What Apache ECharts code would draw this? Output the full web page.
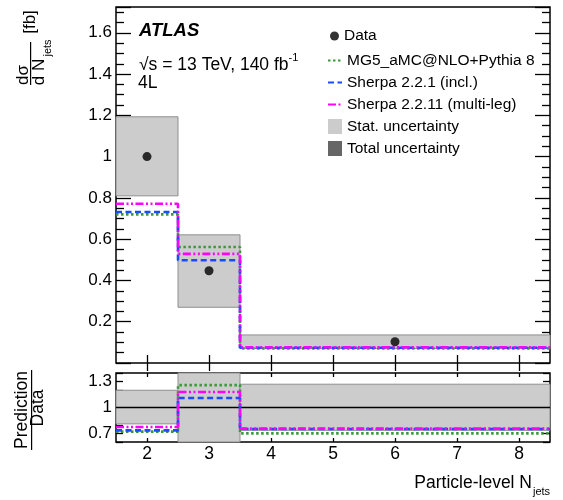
<!DOCTYPE html>
<html><head><meta charset="utf-8">
<script src="https://cdn.jsdelivr.net/npm/echarts@6/dist/echarts.min.js"></script>
<style>html,body{margin:0;padding:0;background:#fff}#c{width:563px;height:500px}</style>
</head><body><div id="c"></div>
<script>
// ---- data ----
const binEdges = [1.5, 2.5, 3.5, 8.5];
const binCenters = [2, 3, 6];
const dataValues = [1.0, 0.447, 0.103];
const statLow = [0.81, 0.27, 0.07];
const statHigh = [1.193, 0.621, 0.136];
const mg5Values = [0.72, 0.562, 0.071];
const sherpa221Values = [0.732, 0.498, 0.074];
const sherpa2211Values = [0.772, 0.529, 0.076];
const ratioStatLow = [0.81, 0.59, 0.735];
const ratioStatHigh = [1.20, 1.41, 1.27];
const ratioMg5 = [0.72, 1.26, 0.70];
const ratioSherpa221 = [0.735, 1.11, 0.75];
const ratioSherpa2211 = [0.774, 1.18, 0.755];
const xTickValues = [2, 3, 4, 5, 6, 7, 8];
const yMainLabels = [0.2, 0.4, 0.6, 0.8, 1, 1.2, 1.4, 1.6];
const yRatioLabels = [0.7, 1, 1.3];

const FONT = "'Liberation Sans', Arial, Helvetica, sans-serif";
const NAMES = {
  data: 'Data', mg5: 'MG5_aMC@NLO+Pythia 8', s221: 'Sherpa 2.2.1 (incl.)',
  s2211: 'Sherpa 2.2.11 (multi-leg)', stat: 'Stat. uncertainty', total: 'Total uncertainty'
};

function stepPoints(vals) {
  const pts = vals.map((v, i) => [binEdges[i], v]);
  pts.push([binEdges[binEdges.length - 1], vals[vals.length - 1]]);
  return pts;
}
function boxRows(lo, hi) {
  return lo.map((l, i) => [binEdges[i], binEdges[i + 1], l, hi[i]]);
}
function renderBox(params, api) {
  const p1 = api.coord([api.value(0), api.value(3)]);
  const p2 = api.coord([api.value(1), api.value(2)]);
  const rect = echarts.graphic.clipRectByRect(
    {x: p1[0], y: p1[1], width: p2[0] - p1[0], height: p2[1] - p1[1]},
    {x: params.coordSys.x, y: params.coordSys.y, width: params.coordSys.width, height: params.coordSys.height});
  if (!rect) return;
  return {type: 'rect', shape: rect, style: {fill: '#cccccc', stroke: '#8f8f8f', lineWidth: 1}};
}

const styles = {
  mg5: {color: '#3a9a3a', type: [2.5, 2.5]},
  s221: {color: '#1a4cff', type: [6, 3.5]},
  s2211: {color: '#ff00ff', type: [8, 2.5, 2, 2.5, 2, 2.5]}
};
function lineSeries(key, vals, xi, yi) {
  return {
    type: 'line', name: NAMES[key], xAxisIndex: xi, yAxisIndex: yi,
    data: stepPoints(vals), step: 'end', symbol: 'none', silent: true,
    itemStyle: {color: styles[key].color},
    lineStyle: {color: styles[key].color, width: 2.6, type: styles[key].type},
    z: 3
  };
}

function xAx(grid, pos, len, labels) {
  return {
    type: 'value', gridIndex: grid, position: pos, min: 1.5, max: 8.5,
    axisLine: {show: false}, splitLine: {show: false},
    axisTick: {show: true, inside: true, length: len, customValues: xTickValues,
      lineStyle: {color: '#000', width: 1.3}},
    axisLabel: labels ? {show: true, customValues: xTickValues, fontSize: 17.5, fontFamily: FONT,
      color: '#000', margin: 3} : {show: false}
  };
}

const lineLegendItem = name => ({name: name, itemStyle: {opacity: 0}});

const chart = echarts.init(document.getElementById('c'), null, {renderer: 'canvas'});
chart.setOption({
  animation: false,
  backgroundColor: '#fff',
  textStyle: {fontFamily: FONT},
  grid: [
    {left: 116, top: 7, width: 434, height: 356, show: true, borderColor: '#000', borderWidth: 1.5, backgroundColor: 'transparent'},
    {left: 116, top: 373, width: 434, height: 69, show: true, borderColor: '#000', borderWidth: 1.5, backgroundColor: 'transparent'}
  ],
  xAxis: [xAx(0, 'bottom', 8, false), xAx(0, 'top', 8, false), xAx(1, 'bottom', 4, true), xAx(1, 'top', 4, false)],
  yAxis: [0, 1].map(k => ({
    type: 'value', gridIndex: 0, position: k ? 'right' : 'left', min: 0, max: 1.725, interval: 0.2,
    axisLine: {show: false}, splitLine: {show: false},
    axisTick: {show: true, inside: true, length: 15, lineStyle: {color: '#000', width: 1.3}},
    minorTick: {show: true, splitNumber: 4, length: 8, lineStyle: {color: '#000', width: 1.3}},
    axisLabel: k ? {show: false} : {show: true, customValues: yMainLabels, fontSize: 17, fontFamily: FONT, color: '#000', margin: 4}
  })).concat([0, 1].map(k => ({
    type: 'value', gridIndex: 1, position: k ? 'right' : 'left', min: 0.6, max: 1.4, interval: 0.1,
    axisLine: {show: false}, splitLine: {show: false},
    axisTick: {show: true, inside: true, length: 7, lineStyle: {color: '#000', width: 1.3}},
    axisLabel: k ? {show: false} : {show: true, customValues: yRatioLabels, fontSize: 17, fontFamily: FONT, color: '#000', margin: 4}
  }))),
  legend: [
    {data: [NAMES.data], orient: 'vertical', left: 330, top: 28, padding: 0, itemWidth: 9, itemHeight: 9,
      textStyle: {fontSize: 15.5, fontFamily: FONT, color: '#000', lineHeight: 14}, selectedMode: false},
    {data: [lineLegendItem(NAMES.mg5), lineLegendItem(NAMES.s221), lineLegendItem(NAMES.s2211),
        {name: NAMES.stat, icon: 'rect'}, {name: NAMES.total, icon: 'rect'}],
      orient: 'vertical', left: 327, top: 52.5, padding: 0, itemWidth: 14, itemHeight: 15, itemGap: 6,
      textStyle: {fontSize: 15.5, fontFamily: FONT, color: '#000', lineHeight: 15}, selectedMode: false}
  ],
  graphic: [
    {type: 'text', x: 139, y: 31, style: {text: 'ATLAS', font: `italic bold 18.5px ${FONT}`, fill: '#000', textVerticalAlign: 'middle'}},
    {type: 'text', x: 139, y: 63, style: {
      text: '{a|√s = 13 TeV, 140 fb}{s|-1}', fill: '#000', textVerticalAlign: 'middle',
      rich: {a: {fontSize: 17.5, fontFamily: FONT, lineHeight: 22, verticalAlign: 'bottom'},
             s: {fontSize: 11, fontFamily: FONT, lineHeight: 22, verticalAlign: 'top'}}}},
    {type: 'text', x: 138, y: 83, style: {text: '4L', font: `17.5px ${FONT}`, fill: '#000', textVerticalAlign: 'middle'}},
    // main y title (rotated)
    {type: 'text', x: 23, y: 75, rotation: Math.PI / 2, style: {text: 'dσ', font: `17px ${FONT}`, fill: '#000', textAlign: 'center', textVerticalAlign: 'middle'}},
    {type: 'rect', shape: {x: 30, y: 42, width: 1.2, height: 43}, style: {fill: '#000'}},
    {type: 'text', x: 39, y: 72, rotation: Math.PI / 2, style: {text: 'd N', font: `17px ${FONT}`, fill: '#000', textAlign: 'center', textVerticalAlign: 'middle'}},
    {type: 'text', x: 48, y: 48, rotation: Math.PI / 2, style: {text: 'jets', font: `11px ${FONT}`, fill: '#000', textAlign: 'center', textVerticalAlign: 'middle'}},
    {type: 'text', x: 30, y: 22, rotation: Math.PI / 2, style: {text: '[fb]', font: `17px ${FONT}`, fill: '#000', textAlign: 'center', textVerticalAlign: 'middle'}},
    // ratio y title
    {type: 'text', x: 22, y: 410, rotation: Math.PI / 2, style: {text: 'Prediction', font: `17.5px ${FONT}`, fill: '#000', textAlign: 'center', textVerticalAlign: 'middle'}},
    {type: 'rect', shape: {x: 31, y: 370, width: 1.2, height: 80}, style: {fill: '#000'}},
    {type: 'text', x: 38.5, y: 408, rotation: Math.PI / 2, style: {text: 'Data', font: `17.5px ${FONT}`, fill: '#000', textAlign: 'center', textVerticalAlign: 'middle'}},
    // x title
    {type: 'text', x: 532, y: 483, style: {text: 'Particle-level N', font: `17.5px ${FONT}`, fill: '#000', textAlign: 'right', textVerticalAlign: 'middle'}},
    {type: 'text', x: 533, y: 492, style: {text: 'jets', font: `11px ${FONT}`, fill: '#000', textAlign: 'left', textVerticalAlign: 'middle'}}
  ],
  series: [
    {type: 'custom', name: NAMES.stat, xAxisIndex: 0, yAxisIndex: 0, renderItem: renderBox,
      data: boxRows(statLow, statHigh), encode: {x: [0, 1], y: [2, 3]}, itemStyle: {color: '#cccccc'}, z: 1, silent: true},
    {type: 'custom', name: NAMES.total, xAxisIndex: 0, yAxisIndex: 0, renderItem: renderBox,
      data: [], itemStyle: {color: '#666666'}, z: 1},
    lineSeries('mg5', mg5Values, 0, 0),
    lineSeries('s221', sherpa221Values, 0, 0),
    lineSeries('s2211', sherpa2211Values, 0, 0),
    {type: 'scatter', name: NAMES.data, xAxisIndex: 0, yAxisIndex: 0, symbol: 'circle', symbolSize: 9,
      itemStyle: {color: '#000'}, data: binCenters.map((c, i) => [c, dataValues[i]]), z: 5, silent: true},
    {type: 'custom', name: NAMES.stat, xAxisIndex: 2, yAxisIndex: 2, renderItem: renderBox,
      data: boxRows(ratioStatLow, ratioStatHigh), encode: {x: [0, 1], y: [2, 3]}, itemStyle: {color: '#cccccc'}, z: 1, silent: true},
    {type: 'line', xAxisIndex: 2, yAxisIndex: 2, data: [[binEdges[0], 1], [binEdges[binEdges.length - 1], 1]],
      symbol: 'none', lineStyle: {color: '#000', width: 1.5}, z: 2, silent: true},
    lineSeries('mg5', ratioMg5, 2, 2),
    lineSeries('s221', ratioSherpa221, 2, 2),
    lineSeries('s2211', ratioSherpa2211, 2, 2)
  ]
});
</script>
</body></html>
